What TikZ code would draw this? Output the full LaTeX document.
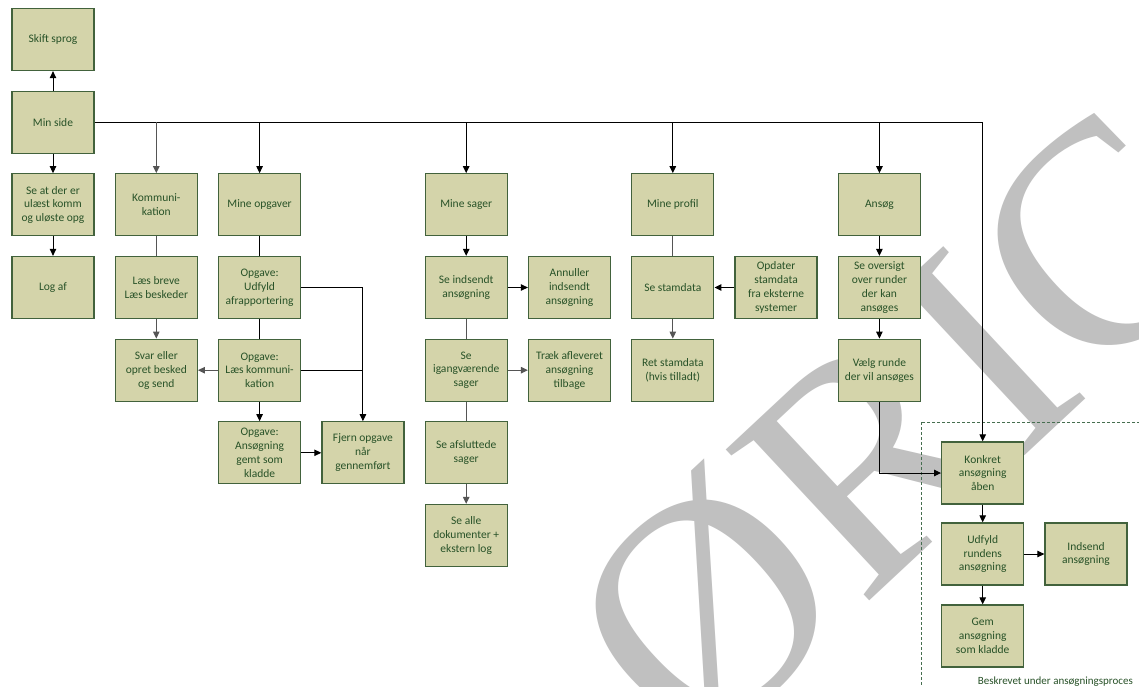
\documentclass[tikz,border=0pt]{standalone}
\usepackage{fontspec}
\setmainfont{Carlito}
\newfontfamily\wmfont{Liberation Serif}
\usetikzlibrary{arrows.meta}
\definecolor{boxfill}{RGB}{212,212,170}
\definecolor{boxline}{RGB}{66,98,60}
\definecolor{boxtext}{RGB}{40,82,40}
\definecolor{wmgray}{RGB}{192,192,192}
\definecolor{framegreen}{RGB}{70,110,80}
\definecolor{softline}{RGB}{85,85,85}

\begin{document}
\begin{tikzpicture}[x=1pt,y=-1pt,
  box/.style={draw=boxline, line width=1.3pt, fill=boxfill,
    minimum width=82pt, minimum height=62pt, inner sep=0pt,
    align=center, text=boxtext, font=\fontsize{11.5}{13.8}\selectfont},
  link/.style={draw=black, line width=1pt},
  soft/.style={draw=softline},
  arr/.style={link, -{Triangle[length=7pt,width=6.5pt]}},
  note/.style={text=boxtext, font=\fontsize{11}{13}\selectfont, inner sep=0pt}
]
\useasboundingbox (0,0) rectangle (1139,687);
\clip (0,0) rectangle (1139,687);
\fill[white] (0,0) rectangle (1139,687);

% watermark in the background
\node[wmgray, rotate=43, anchor=base west, inner sep=0pt,
  font=\wmfont\fontsize{318}{318}\selectfont] (wm) at (693,765) {ØRIC};

% frame of the application sub-process
\draw[framegreen, line width=0.8pt, dash pattern=on 3pt off 2pt]
  (921,422) rectangle (1160,720);
\node[note, anchor=base east] (framelabel) at (1133,684) {Beskrevet under ansøgningsproces};

% column 0
\node[box] (skift) at (53,39.5) {Skift sprog};
\node[box] (minside) at (53,122.2) {Min side};
\node[box] (seat) at (53,204.8) {Se at der er\\ulæst komm\\og uløste opg};
\node[box] (logaf) at (53,287.5) {Log af};

% communication
\node[box] (komm) at (156.3,204.8) {Kommuni-\\kation};
\node[box] (laes) at (156.3,287.5) {Læs breve\\Læs beskeder};
\node[box] (svar) at (156.3,370.2) {Svar eller\\opret besked\\og send};

% tasks
\node[box] (mineopg) at (259.6,204.8) {Mine opgaver};
\node[box] (opgudf) at (259.6,287.5) {Opgave:\\Udfyld\\afrapportering};
\node[box] (opglaes) at (259.6,370.2) {Opgave:\\Læs kommuni-\\kation};
\node[box] (opgans) at (259.6,452.8) {Opgave:\\Ansøgning\\gemt som\\kladde};
\node[box] (fjern) at (362.9,452.8) {Fjern opgave\\når\\gennemført};

% cases
\node[box] (minesager) at (466.2,204.8) {Mine sager};
\node[box] (seind) at (466.2,287.5) {Se indsendt\\ansøgning};
\node[box] (annul) at (569.5,287.5) {Annuller\\indsendt\\ansøgning};
\node[box] (seigang) at (466.2,370.2) {Se\\igangværende\\sager};
\node[box] (traek) at (569.5,370.2) {Træk afleveret\\ansøgning\\tilbage};
\node[box] (seafs) at (466.2,452.8) {Se afsluttede\\sager};
\node[box] (sealle) at (466.2,535.5) {Se alle\\dokumenter +\\ekstern log};

% profile
\node[box] (mineprof) at (672.8,204.8) {Mine profil};
\node[box] (sestam) at (672.8,287.5) {Se stamdata};
\node[box] (opdater) at (776.1,287.5) {Opdater\\stamdata\\fra eksterne\\systemer};
\node[box] (retstam) at (672.8,370.2) {Ret stamdata\\(hvis tilladt)};

% apply
\node[box] (ansoeg) at (879.4,204.8) {Ansøg};
\node[box] (seovers) at (879.4,287.5) {Se oversigt\\over runder\\der kan\\ansøges};
\node[box] (vaelg) at (879.4,370.2) {Vælg runde\\der vil ansøges};

% application process
\node[box] (konkret) at (982.7,473) {Konkret\\ansøgning\\åben};
\node[box] (udfyld) at (982.7,554) {Udfyld\\rundens\\ansøgning};
\node[box] (indsend) at (1086,554) {Indsend\\ansøgning};
\node[box] (gem) at (982.7,636) {Gem\\ansøgning\\som kladde};

% connectors from Min side
\draw[arr] (minside) -- (skift);
\draw[arr] (minside) -- (seat);
\draw[arr] (seat) -- (logaf);
\draw[arr] (minside.east) -| (konkret.north);
\draw[arr, soft] (minside.east -| komm.north) -- (komm.north);
\draw[arr] (minside.east -| mineopg.north) -- (mineopg.north);
\draw[arr] (minside.east -| minesager.north) -- (minesager.north);
\draw[arr] (minside.east -| mineprof.north) -- (mineprof.north);
\draw[arr] (minside.east -| ansoeg.north) -- (ansoeg.north);

% communication
\draw[link, soft] (komm) -- (laes);
\draw[arr, soft] (laes) -- (svar);

% tasks
\draw[link] (mineopg) -- (opgudf);
\draw[link] (opgudf) -- (opglaes);
\draw[arr, soft] (opglaes) -- (svar);
\draw[arr] (opglaes) -- (opgans);
\draw[arr] (opgans) -- (fjern);
\draw[arr] (opgudf.east) -| (fjern.north);
\draw[link] (opglaes.east) -- (opglaes.east -| fjern.north);

% cases
\draw[arr] (minesager) -- (seind);
\draw[arr] (seind) -- (annul);
\draw[link, soft] (seind) -- (seigang);
\draw[arr, soft] (seigang) -- (traek);
\draw[link, soft] (seigang) -- (seafs);
\draw[arr, soft] (seafs) -- (sealle);

% profile
\draw[link, soft] (mineprof) -- (sestam);
\draw[arr] (opdater) -- (sestam);
\draw[arr, soft] (sestam) -- (retstam);

% apply
\draw[arr] (ansoeg) -- (seovers);
\draw[arr] (seovers) -- (vaelg);
\draw[arr] (vaelg.south) |- (konkret.west);
\draw[arr] (konkret) -- (udfyld);
\draw[arr] (udfyld) -- (indsend);
\draw[arr] (udfyld) -- (gem);
\end{tikzpicture}
\end{document}
